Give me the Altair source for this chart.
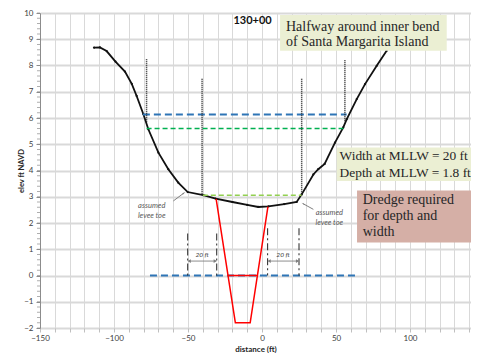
import altair as alt
import pandas as pd

# ---------------- data ----------------
ground_x = [-113.5, -109.5, -105, -99, -92.6, -88, -84.7, -80.2, -76.8, -70, -63.3, -56.6,
            -50.2, -39.7, -31.3, -20, -10, -2.5, 4.3, 15, 23.4, 26.8, 34.7, 38, 42.3, 49.3,
            54.9, 57.2, 64, 69.6, 77.5, 84.2]
ground_y = [8.68, 8.69, 8.55, 8.15, 7.77, 7.3, 6.84, 6.15, 5.57, 4.68, 4.05, 3.54,
            3.18, 3.06, 2.93, 2.80, 2.69, 2.61, 2.63, 2.72, 2.80, 3.09, 3.85, 4.05, 4.25, 5.06,
            5.64, 5.95, 6.72, 7.29, 7.99, 8.56]

dredge_x = [-31, -18, -8, 4]
dredge_y = [2.92, -1.8, -1.8, 2.62]
mllw_cut_x = [-23]
mllw_cut_x2 = [-3]
mllw_cut_y = [0]

# horizontal dashed reference lines
blue_x = [-80.5, -75.7]
blue_x2 = [57.2, 62.8]
blue_y = [6.13, 0]
green_x = [-78]
green_x2 = [55]
green_y = [5.6]
lgreen_x = [-40]
lgreen_x2 = [26.8]
lgreen_y = [3.06]

# vertical dotted lines
dot_x = [-78, -40.5, 26.8, 56]
dot_y = [8.24, 7.5, 7.5, 8.2]
dot_y2 = [5.8, 3.06, 3.06, 5.85]

# vertical dash-dot lines
dd_x = [-50.2, -30.6, 3.8, 25]
dd_y = [1.6, 1.6, 1.8, 1.8]
dd_y2 = [0, 0, 0, 0]

# "20 ft" dimension arrows
dim_x = [-49.5, 4.5]
dim_x2 = [-31.3, 24.3]
dim_y = [0.55, 0.55]
dim_lab_x = [-40.5, 14.2]
dim_lab_y = [0.78, 0.78]
dim_lab = ["20 ft", "20 ft"]
dimhead_x = [-49.2, -31.6, 4.8, 24.0]
dimhead_y = [0.55, 0.55, 0.55, 0.55]
dimhead_shape = ["triangle-left", "triangle-right", "triangle-left", "triangle-right"]

# "assumed levee toe" pointers
toe_x = [-59.9, 34.7]
toe_y = [2.84, 2.52]
toe_x2 = [-52.6, 27.6]
toe_y2 = [3.15, 2.74]
toehead_x = [-53.0, 28.2]
toehead_y = [3.13, 2.72]
toehead_angle = [52, 300]
toe_lab_x = [-74.5, -74.5, 45.5, 45.5]
toe_lab_y = [2.64, 2.26, 2.39, 2.01]
toe_lab = ["assumed", "levee toe", "assumed", "levee toe"]

# annotation boxes
box_x = [12.2, 50.5, 64.2]
box_x2 = [124.8, 141.2, 141.2]
box_y = [9.92, 4.88, 3.24]
box_y2 = [8.56, 3.6, 1.26]
box_fill = ["#ebefd3", "#ebefd3", "#d5afa6"]

note_x = [16.2, 16.2, 52.4, 52.4, 68, 68, 68]
note_y = [9.45, 8.9, 4.55, 3.92, 2.86, 2.26, 1.67]
note_size = [14, 14, 13.4, 13.4, 14, 14, 14]
note_text = ["Halfway around inner bend", "of Santa Margarita Island",
             "Width at MLLW = 20 ft", "Depth at MLLW = 1.8 ft",
             "Dredge required", "for depth and", "width"]

station_x = [-6.4]
station_y = [9.69]
station_text = ["130+00"]

y_minor_vals = [round(-2 + 0.2 * i, 1) for i in range(61)]

# ---------------- scales / axes ----------------
xscale = alt.Scale(domain=[-150, 141.2], nice=False, zero=False)
yscale = alt.Scale(domain=[-2, 10], nice=False, zero=False)

x_axis = alt.Axis(values=list(range(-150, 150, 10)), grid=True, gridColor="#d9d9d9", gridWidth=1,
                  domain=False, ticks=True, tickSize=4, tickColor="#bfbfbf",
                  labelExpr="datum.value % 50 == 0 ? datum.label : ''",
                  labelFlush=False, labelOverlap=False, labelFont="Lato", labelFontSize=8,
                  labelColor="#404040", labelPadding=2,
                  title="distance (ft)", titleFont="Lato", titleFontSize=8, titleFontWeight="bold",
                  titleColor="#262626", titleY=17, titleBaseline="top")
y_axis = alt.Axis(values=list(range(-2, 11)), grid=True, gridColor="#d9d9d9", gridWidth=2,
                  domain=True, domainColor="#8c8c8c", tickSize=4, tickColor="#8c8c8c",
                  labelFlush=False, labelOverlap=False, labelFont="Lato", labelFontSize=8,
                  labelColor="#404040", labelPadding=3,
                  title="elev ft NAVD", titleFont="Lato", titleFontSize=7.5, titleFontWeight="bold",
                  titleColor="#262626", titleX=-17, titleY=157.5, titleAngle=-90,
                  titleAlign="center", titleBaseline="alphabetic")


def X(field="x"):
    return alt.X(f"{field}:Q", scale=xscale, axis=x_axis)


def Y(field="y"):
    return alt.Y(f"{field}:Q", scale=yscale, axis=y_axis)


def hrules(xs, x2s, ys, color, width, dash):
    df = pd.DataFrame({"x": xs, "x2": x2s, "y": ys})
    return alt.Chart(df).mark_rule(color=color, strokeWidth=width, strokeDash=dash).encode(
        x=X(), x2="x2:Q", y=Y())


def vrules(xs, ys, y2s, color, width, dash):
    df = pd.DataFrame({"x": xs, "y": ys, "y2": y2s})
    return alt.Chart(df).mark_rule(color=color, strokeWidth=width, strokeDash=dash).encode(
        x=X(), y=Y(), y2="y2:Q")


ground_df = pd.DataFrame({"x": ground_x, "y": ground_y, "i": list(range(len(ground_x)))})
ground = alt.Chart(ground_df).mark_line(color="#111111", strokeWidth=1.8).encode(
    x=X(), y=Y(), order="i:Q")
ground_pts = alt.Chart(ground_df).mark_point(filled=True, color="#111111", size=5, opacity=1).encode(
    x=X(), y=Y())

minor_df = pd.DataFrame({"y": y_minor_vals})
minor = alt.Chart(minor_df).mark_tick(orient="horizontal", size=3, thickness=1,
                                      color="#8c8c8c").encode(y=Y(), x=alt.value(-1.5))

blue = hrules(blue_x, blue_x2, blue_y, "#2e75b6", 2, [7, 4])
green = hrules(green_x, green_x2, green_y, "#00b050", 1.5, [5, 3])
lgreen = hrules(lgreen_x, lgreen_x2, lgreen_y, "#92d050", 1.5, [5, 3])
dots = vrules(dot_x, dot_y, dot_y2, "#222222", 1.5, [1, 1])
dashdot = vrules(dd_x, dd_y, dd_y2, "#222222", 1, [7, 3, 2, 3])

dredge_df = pd.DataFrame({"x": dredge_x, "y": dredge_y, "i": list(range(len(dredge_x)))})
dredge = alt.Chart(dredge_df).mark_line(color="#ff0000", strokeWidth=1.5).encode(
    x=X(), y=Y(), order="i:Q")
cut = hrules(mllw_cut_x, mllw_cut_x2, mllw_cut_y, "#ff0000", 1.5, [1, 0])

dim = hrules(dim_x, dim_x2, dim_y, "#808080", 1, [1, 0])
dimhead_df = pd.DataFrame({"x": dimhead_x, "y": dimhead_y, "s": dimhead_shape})
dimhead = alt.Chart(dimhead_df).mark_point(filled=True, color="#808080", size=14, opacity=1).encode(
    x=X(), y=Y(), shape=alt.Shape("s:N", scale=None))
dimlab_df = pd.DataFrame({"x": dim_lab_x, "y": dim_lab_y, "t": dim_lab})
dimlab = alt.Chart(dimlab_df).mark_text(font="Lato", fontStyle="italic", fontSize=6.5,
                                        color="#404040").encode(x=X(), y=Y(), text="t:N")

toe_df = pd.DataFrame({"x": toe_x, "y": toe_y, "x2": toe_x2, "y2": toe_y2})
toe = alt.Chart(toe_df).mark_rule(color="#808080", strokeWidth=1).encode(
    x=X(), y=Y(), x2="x2:Q", y2="y2:Q")
toehead_df = pd.DataFrame({"x": toehead_x, "y": toehead_y, "a": toehead_angle})
toehead = alt.Chart(toehead_df).mark_point(shape="wedge", filled=True, color="#808080", size=22,
                                           opacity=1).encode(
    x=X(), y=Y(), angle=alt.Angle("a:Q", scale=None))
toelab_df = pd.DataFrame({"x": toe_lab_x, "y": toe_lab_y, "t": toe_lab})
toelab = alt.Chart(toelab_df).mark_text(font="Lato", fontStyle="italic", fontSize=7.5,
                                        color="#595959").encode(x=X(), y=Y(), text="t:N")

box_df = pd.DataFrame({"x": box_x, "x2": box_x2, "y": box_y, "y2": box_y2, "f": box_fill})
boxes = alt.Chart(box_df).mark_rect(opacity=1).encode(
    x=X(), x2="x2:Q", y=Y(), y2="y2:Q", color=alt.Color("f:N", scale=None))
note_df = pd.DataFrame({"x": note_x, "y": note_y, "t": note_text, "s": note_size})
notes = alt.Chart(note_df).mark_text(font="Liberation Serif", align="left",
                                     baseline="middle", color="#262626").encode(
    x=X(), y=Y(), text="t:N", size=alt.Size("s:Q", scale=None))

station_df = pd.DataFrame({"x": station_x, "y": station_y, "t": station_text})
station = alt.Chart(station_df).mark_text(font="Lato", fontSize=11, fontWeight="bold",
                                          color="#111111").encode(x=X(), y=Y(), text="t:N")

chart = alt.layer(
    ground, ground_pts, minor, blue, green, lgreen, dots, dashdot, dredge, cut,
    dim, dimhead, dimlab, toe, toehead, toelab, boxes, notes, station
).properties(
    width=431, height=315,
    autosize=alt.AutoSizeParams(type="none"),
    padding={"left": 32, "top": 5, "right": 0, "bottom": 25},
    background="white",
).configure_view(stroke=None)

chart.save("out.html", embed_options={"renderer": "svg", "actions": False})
